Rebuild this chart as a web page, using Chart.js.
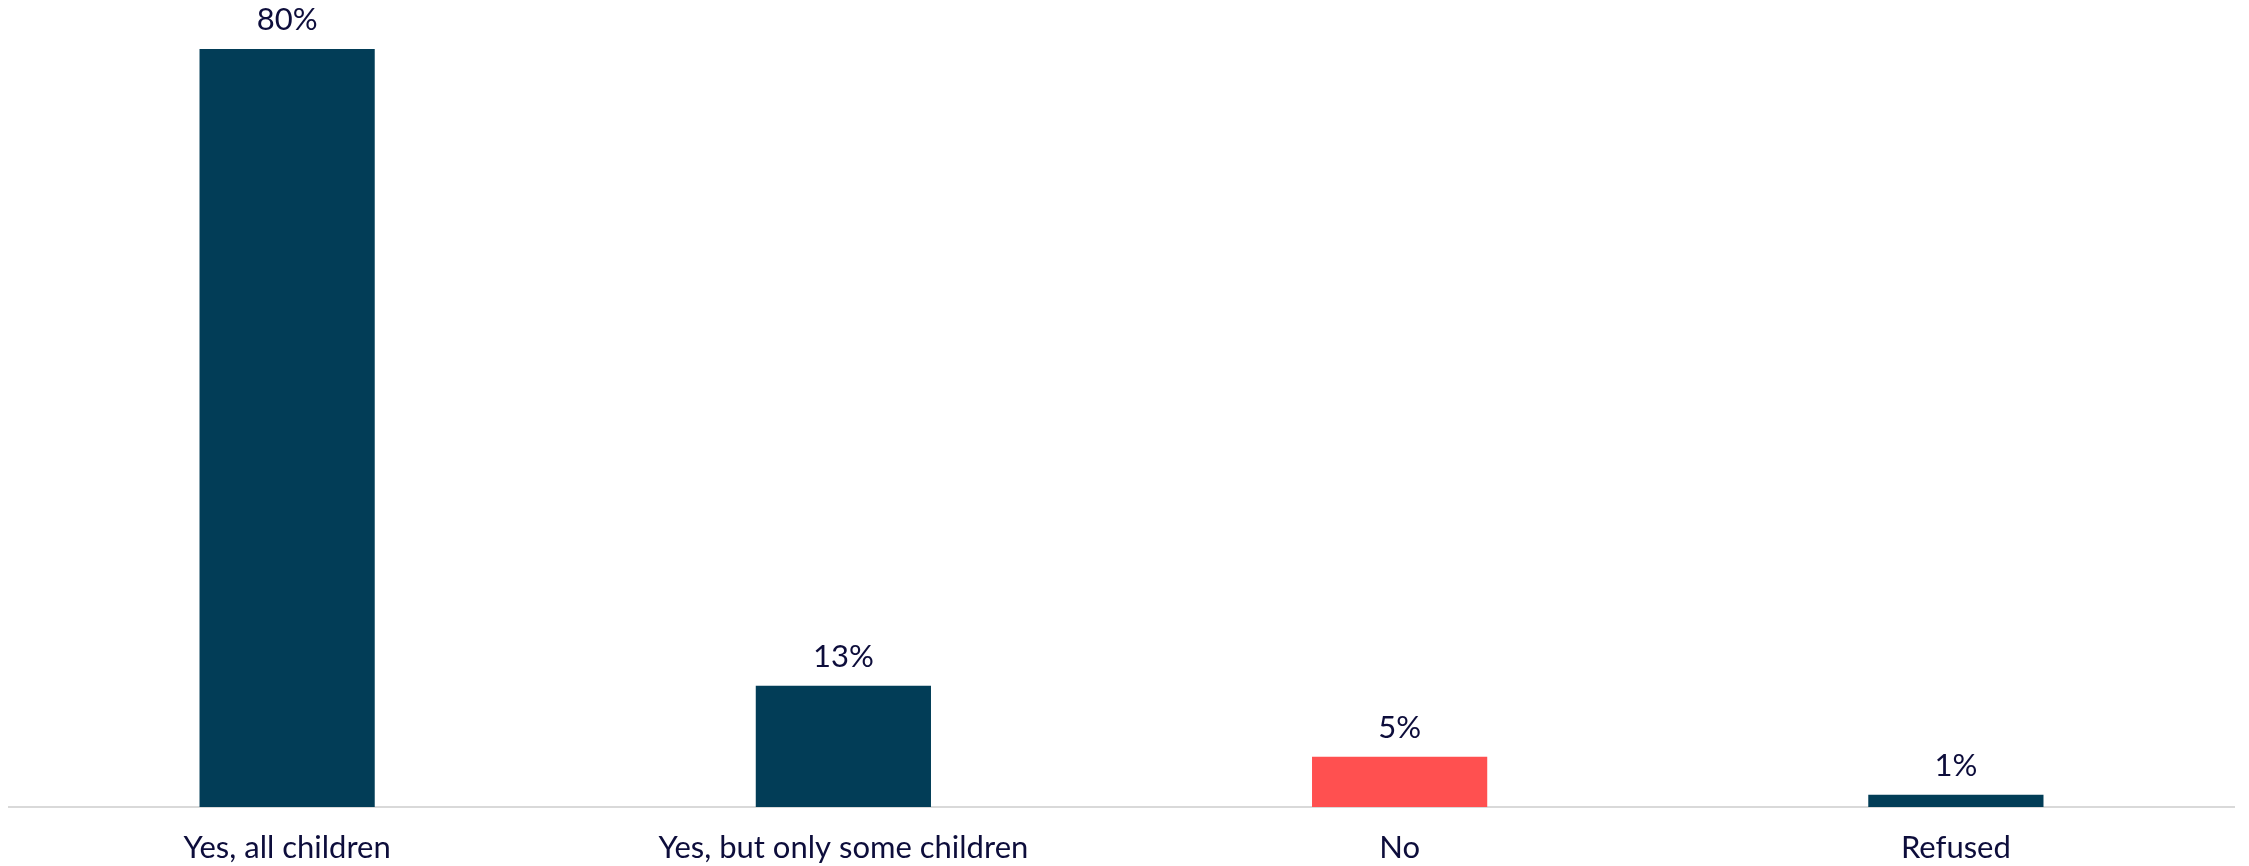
<!DOCTYPE html>
<html>
<head>
<meta charset="utf-8">
<script src="https://cdn.jsdelivr.net/npm/chart.js"></script>
<style>
  html, body { margin: 0; padding: 0; background: #ffffff; }
  #wrap { width: 2249px; height: 866px; }
</style>
</head>
<body>
<div id="wrap"><canvas id="myChart"></canvas></div>
<script>
// chart data
const categories = ['Yes, all children', 'Yes, but only some children', 'No', 'Refused'];
const shares = [80, 12.8, 5.3, 1.3];
const valueLabels = ['80%', '13%', '5%', '1%'];
const barColors = ['#023d57', '#023d57', '#ff5050', '#023d57'];

const textColor = '#0d0d3b';
const fontFamily = 'Lato, "Open Sans", sans-serif';

// draws the % text above each bar
const valueLabelPlugin = {
    id: 'valueLabels',
    afterDatasetsDraw(chart) {
        const ctx = chart.ctx;
        const meta = chart.getDatasetMeta(0);
        ctx.save();
        ctx.font = '31px ' + fontFamily;
        ctx.fillStyle = textColor;
        ctx.textAlign = 'center';
        ctx.textBaseline = 'middle';
        meta.data.forEach((bar, i) => {
            ctx.fillText(valueLabels[i], bar.x, bar.y - 29);
        });
        ctx.restore();
    }
};

const ctx = document.getElementById('myChart').getContext('2d');
const myChart = new Chart(ctx, {
    type: 'bar',
    data: {
        labels: categories,
        datasets: [
            {
                data: shares,
                backgroundColor: barColors,
                borderWidth: 0,
                barPercentage: 0.315,
                categoryPercentage: 1,
            },
        ],
    },
    options: {
        responsive: true,
        maintainAspectRatio: false,
        animation: false,
        layout: {
            padding: { top: 49, left: 9, right: 15, bottom: 0 },
        },
        plugins: {
            legend: { display: false },
            tooltip: { enabled: false },
        },
        scales: {
            x: {
                grid: { display: false },
                border: { display: true, color: '#d9d9d9', width: 2 },
                ticks: {
                    color: textColor,
                    padding: 14,
                    font: { size: 31, family: fontFamily },
                    maxRotation: 0,
                    autoSkip: false,
                },
                afterFit(scale) {
                    scale.height = 59;
                },
            },
            y: {
                display: false,
                min: 0,
                max: 80,
            },
        },
    },
    plugins: [valueLabelPlugin],
});
</script>
</body>
</html>
